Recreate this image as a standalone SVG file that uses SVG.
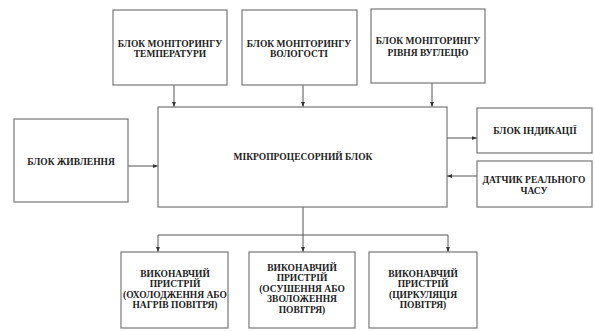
<svg xmlns="http://www.w3.org/2000/svg" width="595" height="332" viewBox="0 0 595 332" font-family="'Liberation Serif', serif">
<defs>
<marker id="ah" viewBox="0 0 8 8" refX="8" refY="4" markerWidth="5" markerHeight="5" orient="auto" markerUnits="userSpaceOnUse">
<path d="M0,1 L8,4 L0,7 Z" fill="#333"/>
</marker>
<style>
rect{fill:#fff;stroke:#777;stroke-width:1.2}
text{font-family:'Liberation Serif',serif;font-weight:bold;font-size:9.5px;fill:#222;text-anchor:middle}
.c{fill:none;stroke:#555;stroke-width:1}
.a{marker-end:url(#ah)}
</style>
</defs>
<rect x="0" y="0" width="595" height="332" style="fill:#fff;stroke:none"/>
<g id="connectors">
<line class="c a" x1="174" y1="85" x2="174" y2="107"/>
<line class="c a" x1="303" y1="85" x2="303" y2="107"/>
<line class="c a" x1="432" y1="83" x2="432" y2="107"/>
<line class="c a" x1="128" y1="166" x2="158" y2="166"/>
<line class="c a" x1="447" y1="138" x2="477" y2="138"/>
<line class="c a" x1="477" y1="176" x2="447" y2="176"/>
<line class="c" x1="303" y1="207" x2="303" y2="235"/>
<line class="c" x1="158" y1="235" x2="448" y2="235"/>
<line class="c a" x1="158" y1="235" x2="158" y2="252"/>
<line class="c a" x1="303" y1="235" x2="303" y2="252"/>
<line class="c a" x1="448" y1="235" x2="448" y2="252"/>
</g>
<g id="temp"><rect x="113" y="10" width="114" height="75"/><text x="170" y="47">БЛОК МОНІТОРИНГУ</text><text x="170" y="57">ТЕМПЕРАТУРИ</text></g>
<g id="humid"><rect x="242" y="10" width="115" height="75"/><text x="299" y="47">БЛОК МОНІТОРИНГУ</text><text x="299" y="57">ВОЛОГОСТІ</text></g>
<g id="co2"><rect x="371" y="9" width="114" height="74"/><text x="428" y="44">БЛОК МОНІТОРИНГУ</text><text x="428" y="56">РІВНЯ ВУГЛЕЦЮ</text></g>
<g id="mcu"><rect x="158" y="107" width="289" height="100"/><text x="303" y="160">МІКРОПРОЦЕСОРНИЙ БЛОК</text></g>
<g id="power"><rect x="14" y="119" width="114" height="83"/><text x="71" y="165">БЛОК ЖИВЛЕННЯ</text></g>
<g id="indication"><rect x="477" y="108" width="115" height="45"/><text x="535" y="134">БЛОК ІНДИКАЦІЇ</text></g>
<g id="clock"><rect x="477" y="161" width="115" height="46"/><text x="534" y="183">ДАТЧИК РЕАЛЬНОГО</text><text x="534" y="194">ЧАСУ</text></g>
<g id="act1"><rect x="121" y="252" width="107" height="76"/><text x="175" y="277">ВИКОНАВЧИЙ</text><text x="175" y="287">ПРИСТРІЙ</text><text x="175" y="298">(ОХОЛОДЖЕННЯ АБО</text><text x="175" y="308">НАГРІВ ПОВІТРЯ)</text></g>
<g id="act2"><rect x="249" y="252" width="106" height="76"/><text x="302" y="271">ВИКОНАВЧИЙ</text><text x="302" y="281">ПРИСТРІЙ</text><text x="302" y="292">(ОСУШЕННЯ АБО</text><text x="302" y="302">ЗВОЛОЖЕННЯ</text><text x="302" y="313">ПОВІТРЯ)</text></g>
<g id="act3"><rect x="369" y="252" width="108" height="76"/><text x="423" y="277">ВИКОНАВЧИЙ</text><text x="423" y="287">ПРИСТРІЙ</text><text x="423" y="298">(ЦИРКУЛЯЦІЯ</text><text x="423" y="308">ПОВІТРЯ)</text></g>
</svg>
